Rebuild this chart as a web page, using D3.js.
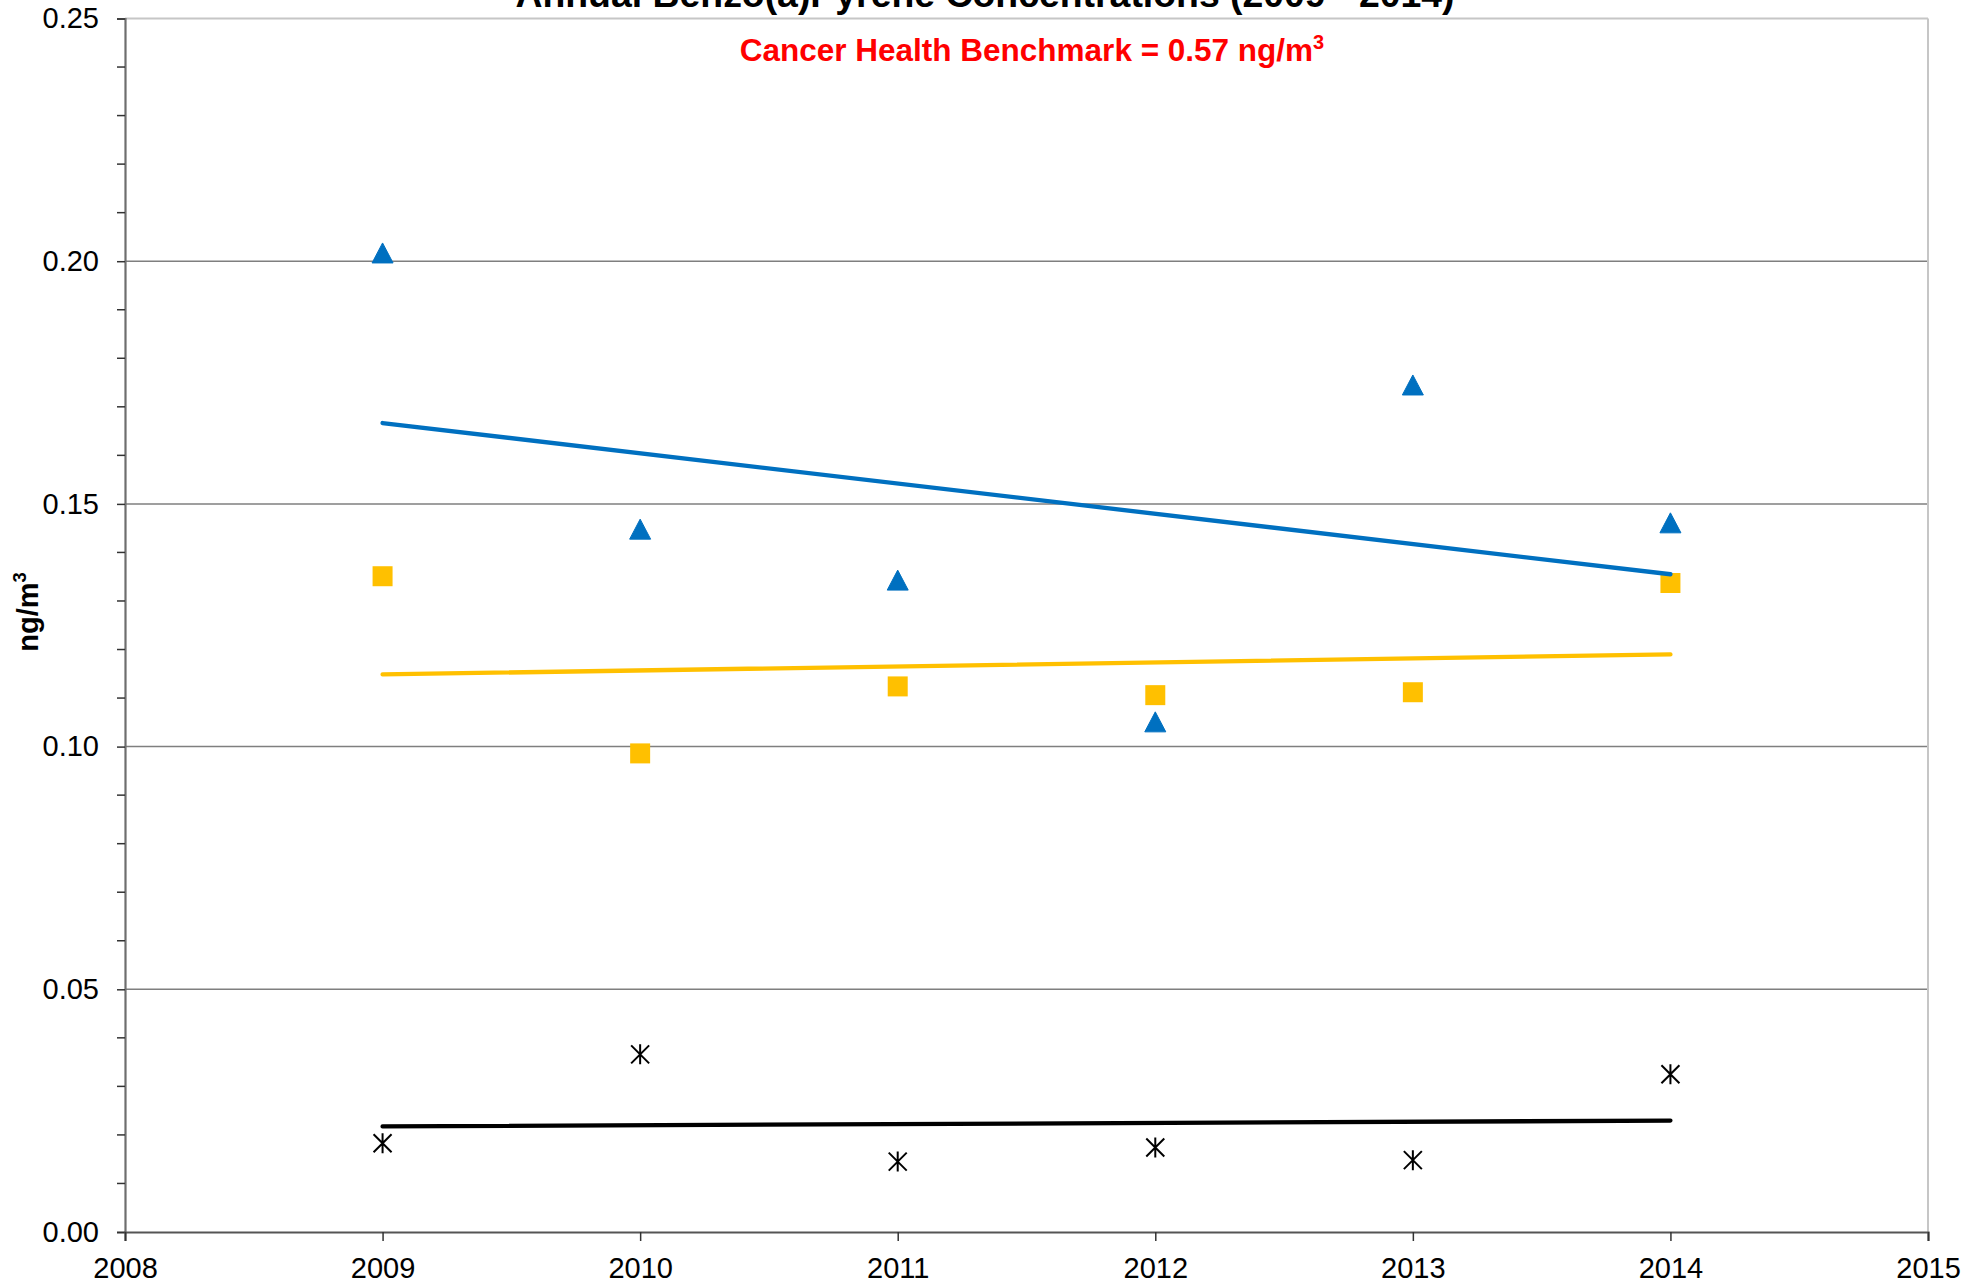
<!DOCTYPE html>
<html>
<head>
<meta charset="utf-8">
<script src="https://cdn.jsdelivr.net/npm/d3@7"></script>
<style>
  html, body { margin: 0; padding: 0; background: #fff; }
  svg { display: block; font-family: "Liberation Sans", Arial, sans-serif; }
</style>
</head>
<body>
<svg id="chart" width="1986" height="1287"></svg>
<script>
// ---- data ----
const years = [2009, 2010, 2011, 2012, 2013, 2014];
const blueTriangles = [0.2017, 0.1448, 0.1343, 0.1051, 0.1745, 0.1461];
const yellowSquares = [0.1351, 0.0986, 0.1124, 0.1106, 0.1112, 0.1337];
const blackAsterisks = [0.0183, 0.0366, 0.0145, 0.0174, 0.0148, 0.0325];
const xTicks = [2008, 2009, 2010, 2011, 2012, 2013, 2014, 2015];
const yTicks = [0, 0.05, 0.10, 0.15, 0.20, 0.25];
const titleText = "Annual Benzo(a)Pyrene Concentrations (2009 - 2014)";
const benchmarkText = "Cancer Health Benchmark = 0.57 ng/m";
const yLabelText = "ng/m";

(function () {
// ---- layout ----
const svg = d3.select("#chart");
const pLeft = 125, pRight = 1928, pTop = 18.5, pBottom = 1232;
const x = d3.scaleLinear().domain([2008, 2015]).range([pLeft, pRight]);
const y = d3.scaleLinear().domain([0, 0.25]).range([pBottom, pTop]);

// gridlines
svg.append("g").selectAll("line")
  .data(yTicks.filter(v => v > 0 && v < 0.25))
  .join("line")
  .attr("x1", pLeft).attr("x2", pRight)
  .attr("y1", d => y(d)).attr("y2", d => y(d))
  .attr("stroke", "#7f7f7f").attr("stroke-width", 1.5);

// plot frame (top & right light gray)
svg.append("line").attr("x1", pLeft).attr("x2", pRight).attr("y1", y(0.25)).attr("y2", y(0.25))
  .attr("stroke", "#c6c6c6").attr("stroke-width", 2);
svg.append("line").attr("x1", pRight).attr("x2", pRight).attr("y1", y(0.25)).attr("y2", y(0))
  .attr("stroke", "#c6c6c6").attr("stroke-width", 2);

// y axis
const yAxis = d3.axisLeft(y).tickValues(yTicks).tickFormat(d3.format(".2f")).tickSize(8).tickPadding(18);
const gy = svg.append("g").attr("transform", `translate(${pLeft},0)`).call(yAxis);
gy.select(".domain").attr("stroke", "#6e6e6e").attr("stroke-width", 2.2);
gy.selectAll(".tick line").attr("stroke", "#333").attr("stroke-width", 1.5);
gy.selectAll(".tick text").attr("font-size", 29).attr("fill", "#000")
  .attr("font-family", "Liberation Sans, Arial, sans-serif");
// minor y ticks
const minor = d3.range(0, 0.2501, 0.01).filter(v => Math.round(v * 100) % 5 !== 0);
svg.append("g").selectAll("line").data(minor).join("line")
  .attr("x1", pLeft - 8).attr("x2", pLeft)
  .attr("y1", d => y(d)).attr("y2", d => y(d))
  .attr("stroke", "#333").attr("stroke-width", 1.5);

// x axis
const xAxis = d3.axisBottom(x).tickValues(xTicks).tickFormat(d3.format("d")).tickSize(9).tickPadding(16);
const gx = svg.append("g").attr("transform", `translate(0,${pBottom})`).call(xAxis);
gx.select(".domain").attr("stroke", "#555").attr("stroke-width", 2.2);
gx.selectAll(".tick line").attr("stroke", "#333").attr("stroke-width", 1.5);
gx.selectAll(".tick text").attr("font-size", 29).attr("fill", "#000")
  .attr("font-family", "Liberation Sans, Arial, sans-serif");

// ---- markers ----
const triPts = years.map((yr, i) => [yr, blueTriangles[i]]);
const sqPts = years.map((yr, i) => [yr, yellowSquares[i]]);
const astPts = years.map((yr, i) => [yr, blackAsterisks[i]]);

svg.append("g").selectAll("path").data(sqPts).join("path")
  .attr("d", "M-10,-10H10V10H-10Z")
  .attr("transform", d => `translate(${x(d[0])},${y(d[1])})`)
  .attr("fill", "#FFC000");

svg.append("g").selectAll("path").data(triPts).join("path")
  .attr("d", "M0,-10L10.5,10H-10.5Z")
  .attr("transform", d => `translate(${x(d[0])},${y(d[1])})`)
  .attr("fill", "#0070C0").attr("stroke", "#0070C0").attr("stroke-width", 1).attr("stroke-linejoin", "round");

svg.append("g").selectAll("path").data(astPts).join("path")
  .attr("d", "M0,-10V10M-9,-9L9,9M-9,9L9,-9")
  .attr("transform", d => `translate(${x(d[0])},${y(d[1])})`)
  .attr("fill", "none").attr("stroke", "#000").attr("stroke-width", 2);

// ---- linear trendlines (least squares) ----
function trend(pts) {
  const mx = d3.mean(pts, d => d[0]), my = d3.mean(pts, d => d[1]);
  const sxy = d3.sum(pts, d => (d[0] - mx) * (d[1] - my));
  const sxx = d3.sum(pts, d => (d[0] - mx) ** 2);
  const b = sxy / sxx, a = my - b * mx;
  const x0 = d3.min(pts, d => d[0]), x1 = d3.max(pts, d => d[0]);
  return [[x0, a + b * x0], [x1, a + b * x1]];
}
const line = d3.line().x(d => x(d[0])).y(d => y(d[1]));
[[triPts, "#0070C0"], [sqPts, "#FFC000"], [astPts, "#000000"]].forEach(([pts, c]) => {
  svg.append("path").attr("d", line(trend(pts)))
    .attr("fill", "none").attr("stroke", c).attr("stroke-width", 4.3).attr("stroke-linecap", "round");
});

// ---- texts ----
svg.append("text").attr("x", 985).attr("y", 7).attr("text-anchor", "middle")
  .attr("font-size", 37.4).attr("font-weight", "bold").attr("fill", "#000").text(titleText);

const bt = svg.append("text").attr("x", 1032).attr("y", 61).attr("text-anchor", "middle")
  .attr("font-size", 31.5).attr("font-weight", "bold").attr("fill", "#FF0000");
bt.append("tspan").text(benchmarkText);
bt.append("tspan").attr("font-size", 20).attr("dy", -12).text("3");

const yl = svg.append("text").attr("transform", "translate(38,612) rotate(-90)")
  .attr("text-anchor", "middle").attr("font-size", 29).attr("font-weight", "bold").attr("fill", "#000");
yl.append("tspan").text(yLabelText);
yl.append("tspan").attr("font-size", 18.5).attr("dy", -12).text("3");
})();
</script>
</body>
</html>
